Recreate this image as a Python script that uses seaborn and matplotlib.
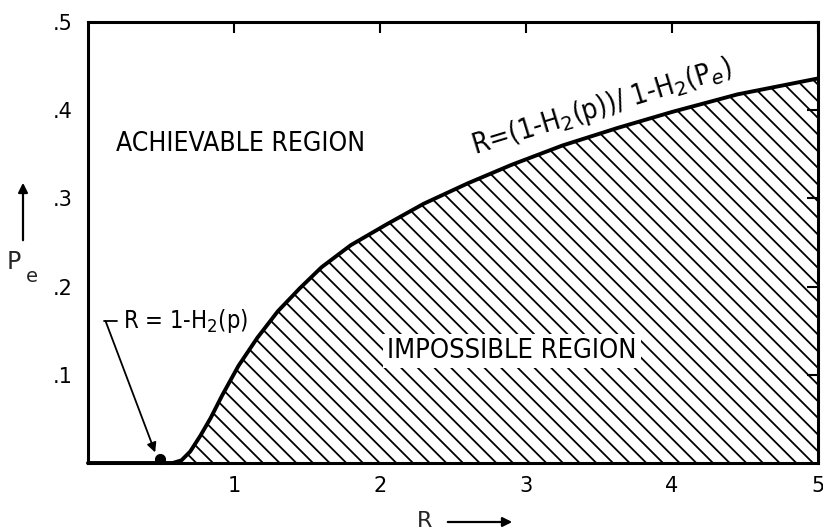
import matplotlib
matplotlib.use("Agg")
import matplotlib.pyplot as plt
from matplotlib.patches import FancyArrowPatch
import seaborn as sns
import pandas as pd

# Data
R_vals = [0.50, 0.58, 0.64, 0.70, 0.77, 0.84, 0.92, 1.03, 1.16, 1.30, 1.45, 1.60,
          1.80, 2.05, 2.30, 2.60, 2.90, 3.25, 3.63, 4.00, 4.45, 5.00]
Pe_vals = [0.000, 0.000, 0.003, 0.013, 0.031, 0.051, 0.077, 0.110, 0.142, 0.172, 0.198, 0.222,
           0.247, 0.271, 0.294, 0.317, 0.338, 0.360, 0.380, 0.398, 0.418, 0.436]
x_ticks = [1, 2, 3, 4, 5]
x_tick_labels = ["1", "2", "3", "4", "5"]
y_ticks = [0.1, 0.2, 0.3, 0.4, 0.5]
y_tick_labels = [".1", ".2", ".3", ".4", ".5"]
point_R = [0.49]
point_Pe = [0.005]

sns.set_theme(style="white")
plt.rcParams['font.family'] = ['DejaVu Sans']
plt.rcParams['hatch.linewidth'] = 1.3
plt.rcParams['hatch.color'] = 'black'

df = pd.DataFrame({"R": R_vals, "Pe": Pe_vals})

fig = plt.figure(figsize=(8.23, 5.32), dpi=100)
ax = fig.add_axes([88/823, 69/532, (818-88)/823, (463-22)/532])

ax.fill_between(df["R"], df["Pe"], 0, facecolor="none", edgecolor="black",
                hatch="\\\\", linewidth=0)
sns.lineplot(data=df, x="R", y="Pe", sort=False, color="black", linewidth=2.8, ax=ax)
ax.plot([0, 0.5], [0, 0], color="black", linewidth=2.8, clip_on=False)
ax.plot(point_R, point_Pe, "o", color="black", markersize=7, clip_on=False)

ax.set_xlim(0, 5)
ax.set_ylim(0, 0.5)
ax.set_xticks(x_ticks)
ax.set_xticklabels(x_tick_labels)
ax.set_yticks(y_ticks)
ax.set_yticklabels(y_tick_labels)
ax.tick_params(direction="in", top=True, right=True, length=8, width=1.5,
               labelsize=15, colors="black", pad=11)
ax.tick_params(axis="x", pad=9)
for s in ax.spines.values():
    s.set_color("black")
    s.set_linewidth(2.2)
ax.set_xlabel("")
ax.set_ylabel("")

fs = dict(color="black", fontstretch="condensed")
ax.text(0.19, 0.362, "ACHIEVABLE REGION", va="center", ha="left", fontsize=19, **fs)
ax.text(2.05, 0.127, "IMPOSSIBLE REGION", va="center", ha="left", fontsize=19.5,
        bbox=dict(facecolor="white", edgecolor="none", pad=3), **fs)
ax.text(3.52, 0.404, r"R=(1-H$_2$(p))/ 1-H$_2$(P$_e$)", rotation=17,
        va="center", ha="center", fontsize=20, **fs)
ax.text(0.24, 0.161, r"R = 1-H$_2$(p)", va="center", ha="left", fontsize=17, **fs)
ax.plot([0.11, 0.20], [0.161, 0.161], color="black", linewidth=1.3)
ax.annotate("", xy=(0.46, 0.012), xytext=(0.12, 0.161),
            arrowprops=dict(arrowstyle="-|>", color="black", lw=1.3,
                            mutation_scale=14, shrinkA=0, shrinkB=0))

# axis labels with arrows
fig.text(14/823, 1 - 262/532, "P", fontsize=17, ha="center", va="center")
fig.text(32/823, 1 - 276/532, "e", fontsize=14, ha="center", va="center")
fig.add_artist(FancyArrowPatch(
    (23/823, 1 - 243/532), (23/823, 1 - 180/532), transform=fig.transFigure,
    arrowstyle="-|>", mutation_scale=14, color="black", lw=1.6))
fig.text(425/823, 1 - 521/532, "R", fontsize=16, ha="center", va="center")
fig.add_artist(FancyArrowPatch(
    (445/823, 1 - 522/532), (515/823, 1 - 522/532), transform=fig.transFigure,
    arrowstyle="-|>", mutation_scale=14, color="black", lw=1.6))

fig.savefig("out.png", dpi=100)
